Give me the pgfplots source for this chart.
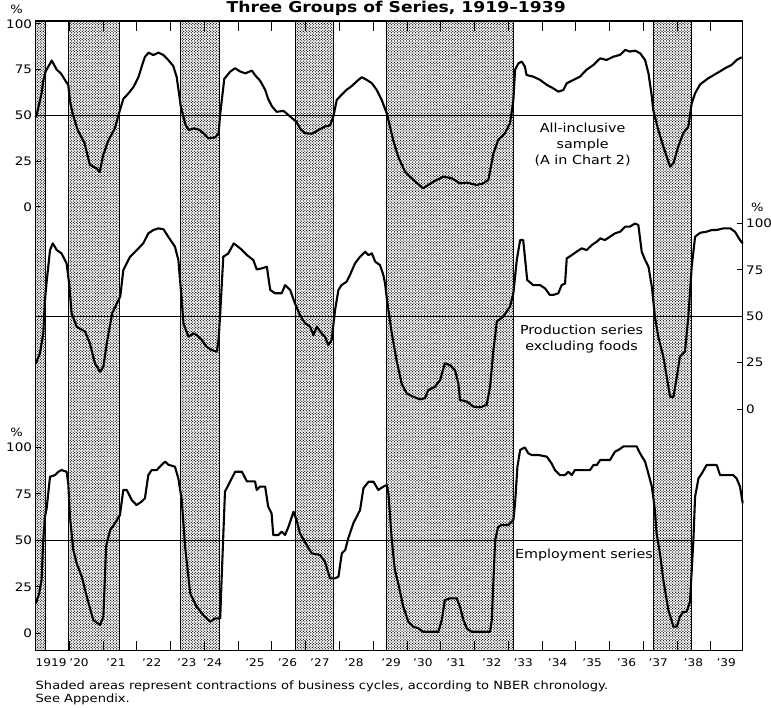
\documentclass[border=0pt]{standalone}
\usepackage{pgfplots}
\pgfplotsset{compat=1.18}
\usepackage{fontspec}
\setmainfont[FakeStretch=1.15]{DejaVu Sans}
\usetikzlibrary{patterns}

% staggered stipple for the contraction periods
\pgfdeclarepatternformonly{stipple}{\pgfqpoint{-1pt}{-1pt}}{\pgfqpoint{4pt}{4pt}}{\pgfqpoint{3pt}{2.7pt}}{%
  \pgfpathcircle{\pgfqpoint{0pt}{0pt}}{.65pt}%
  \pgfpathcircle{\pgfqpoint{1.5pt}{1.35pt}}{.65pt}%
  \pgfusepath{fill}}

\tikzset{note/.style={font=\fontsize{12.5}{15.8}\selectfont}}

\pgfplotsset{
  every axis/.append style={
    scale only axis, width=707.2bp, height=629.5bp,
    at={(35.5bp,57.5bp)}, anchor=south west,
    xmin=1919, xmax=1939.94,
  },
  series axis/.style={
    axis line style={draw=none}, xtick=\empty, clip=false,
    ytick={0,25,50,75,100},
    tick align=inside, major tick length=6bp,
    tick style={black, line width=1bp},
    /pgf/number format/assume math mode=true,
    yticklabel style={font=\fontsize{11.8}{11.8}\selectfont},
  },
  curve/.style={black, line width=2.1bp, line join=round},
  fifty/.style={black, line width=0.9bp},
  shade/.style={draw=black, line width=0.8bp, pattern=stipple},
}

\begin{document}
\begin{tikzpicture}[font=\fontsize{11.4}{15.8}\selectfont]
\path[use as bounding box] (0,0) rectangle (771bp,708bp);

% frame, shading and year axis
\begin{axis}[
  clip=false,
  ymin=0, ymax=1, ytick=\empty,
  axis line style={line width=1.3bp},
  xtick={1919.46,1920.29,1921.38,1922.44,1923.48,1924.24,1925.5,1926.46,1927.42,1928.43,1929.53,1930.47,1931.45,1932.51,1933.44,1934.46,1935.48,1936.5,1937.44,1938.48,1939.45},
  xticklabels={1919,’20,’21,’22,’23,’24,’25,’26,’27,’28,’29,’30,’31,’32,’33,’34,’35,’36,’37,’38,’39},
  major tick length=0pt,
  xticklabel style={font=\fontsize{10.6}{10.6}\selectfont, anchor=base, yshift=-16bp},
  extra x ticks={1920,1921,...,1939},
  extra x tick labels={},
  extra x tick style={major tick length=10bp, tick align=inside, tick style={black, line width=1bp}, xticklabel={}},
]
\addplot[shade] coordinates {(1919,0) (1919,1) (1919.28,1) (1919.28,0)} -- cycle;
\addplot[shade] coordinates {(1919.98,0) (1919.98,1) (1921.48,1) (1921.48,0)} -- cycle;
\addplot[shade] coordinates {(1923.28,0) (1923.28,1) (1924.44,1) (1924.44,0)} -- cycle;
\addplot[shade] coordinates {(1926.7,0) (1926.7,1) (1927.82,1) (1927.82,0)} -- cycle;
\addplot[shade] coordinates {(1929.4,0) (1929.4,1) (1933.15,1) (1933.15,0)} -- cycle;
\addplot[shade] coordinates {(1937.3,0) (1937.3,1) (1938.42,1) (1938.42,0)} -- cycle;
\node[anchor=base, font=\bfseries\fontsize{15}{15}\selectfont] at (rel axis cs:0.51,1) [yshift=8bp] {Three Groups of Series, 1919–1939};
\node[anchor=base west, inner sep=0pt] at (rel axis cs:0,0) [yshift=-38.5bp] {Shaded areas represent contractions of business cycles, according to NBER chronology.};
\node[anchor=base west, inner sep=0pt] at (rel axis cs:0,0) [yshift=-52bp] {See Appendix.};
\end{axis}

% all-inclusive sample
\begin{axis}[series axis, ymin=-242.3, ymax=101.6, ytick pos=left, yticklabel pos=left]
\addplot[fifty] coordinates {(1919,50) (1939.94,50)};
\addplot[curve] coordinates {
(1919.0,49) (1919.03,50) (1919.18,62) (1919.23,69) (1919.3,74) (1919.48,80)
(1919.63,75) (1919.75,73) (1919.92,68) (1919.97,66.7) (1920.02,58) (1920.1,51)
(1920.25,42) (1920.45,35) (1920.61,23) (1920.82,21) (1920.9,19) (1921.0,28)
(1921.15,36) (1921.35,43) (1921.47,51) (1921.6,59) (1921.75,62) (1921.9,65.5)
(1922.05,71) (1922.15,77) (1922.24,82) (1922.35,84.3) (1922.49,83) (1922.64,84.3)
(1922.79,83) (1922.93,80.3) (1923.08,77) (1923.18,71) (1923.25,62) (1923.3,55)
(1923.37,50) (1923.44,45) (1923.54,42) (1923.69,43) (1923.87,42) (1924.02,39.5)
(1924.12,37.5) (1924.32,38) (1924.42,40) (1924.47,51) (1924.59,70) (1924.77,74)
(1924.91,75.8) (1925.06,74) (1925.21,73) (1925.41,74.5) (1925.5,72) (1925.65,69)
(1925.8,64) (1925.89,59) (1926.0,55) (1926.14,52) (1926.34,52.5) (1926.44,51)
(1926.63,48) (1926.73,46.5) (1926.83,43) (1926.98,40.3) (1927.18,40) (1927.38,42)
(1927.57,44) (1927.72,44.5) (1927.82,49.4) (1927.92,58.5) (1928.06,61.2) (1928.21,64)
(1928.36,66) (1928.56,69.4) (1928.66,70.9) (1928.81,69.4) (1928.96,67.6) (1929.1,64)
(1929.25,58.5) (1929.4,51.2) (1929.45,47.5) (1929.59,36.6) (1929.74,27.5) (1929.94,19.3)
(1930.19,14.8) (1930.48,10.2) (1930.78,13.8) (1931.08,16.6) (1931.32,15.7) (1931.57,12.9)
(1931.77,13.3) (1932.06,12) (1932.26,12.9) (1932.41,14.8) (1932.56,29.3) (1932.7,36.6)
(1932.9,40.3) (1933.05,45.7) (1933.15,58.5) (1933.2,74.9) (1933.3,78.5) (1933.4,79.4)
(1933.49,76.7) (1933.54,72.1) (1933.74,71.2) (1933.94,69.4) (1934.14,66.7) (1934.33,64.8)
(1934.48,63) (1934.63,63.9) (1934.73,67.6) (1934.93,69.4) (1935.12,71.2) (1935.32,75)
(1935.52,77.6) (1935.72,81.2) (1935.91,80.3) (1936.11,82.1) (1936.31,83.1) (1936.46,85.8)
(1936.6,84.9) (1936.75,85.4) (1936.9,84) (1937.05,80.3) (1937.15,73) (1937.25,60.3)
(1937.29,53) (1937.44,42.1) (1937.59,33) (1937.79,22) (1937.89,23.9) (1938.03,33)
(1938.18,40.3) (1938.33,43.9) (1938.43,56.6) (1938.53,62.1) (1938.68,67) (1938.92,70.3)
(1939.17,73) (1939.42,75.8) (1939.61,77.6) (1939.76,80.3) (1939.91,81.8)
};
\node[note, align=center] at (axis cs:1935.2,34) {All-inclusive\\sample\\(A in Chart 2)};
\node at (axis cs:1919,100) [xshift=-19bp, yshift=15bp] {\%};
\end{axis}

% production series excluding foods
\begin{axis}[series axis, ymin=-130.2, ymax=209.2, ytick pos=right, yticklabel pos=right]
\addplot[fifty] coordinates {(1919,50) (1939.94,50)};
\addplot[curve] coordinates {
(1919.01,24.6) (1919.13,30) (1919.23,40.8) (1919.28,58.8) (1919.33,68.6) (1919.43,85.7)
(1919.51,89.3) (1919.63,85.7) (1919.77,83.9) (1919.92,78.5) (1920.0,67) (1920.07,51.6)
(1920.22,44.4) (1920.47,41.7) (1920.61,35.4) (1920.76,24.6) (1920.91,20.1) (1921.01,22.8)
(1921.11,35.4) (1921.27,51.6) (1921.41,57) (1921.51,60.6) (1921.6,74.9) (1921.8,82.1)
(1922.0,85.7) (1922.19,89.3) (1922.34,94.7) (1922.49,96.5) (1922.64,97.4) (1922.79,96.9)
(1922.93,92.9) (1923.13,87.5) (1923.23,80.3) (1923.33,58.8) (1923.38,46.2) (1923.53,39)
(1923.67,40.8) (1923.77,39.9) (1923.92,37.2) (1924.07,33.6) (1924.22,31.8) (1924.37,30.9)
(1924.42,37.2) (1924.47,51.6) (1924.56,82.1) (1924.71,83.9) (1924.87,89.3) (1925.06,86.6)
(1925.26,83) (1925.45,80.3) (1925.55,75.3) (1925.7,75.8) (1925.85,76.7) (1925.95,64.2)
(1926.09,62.4) (1926.29,62.4) (1926.39,66.8) (1926.54,64.2) (1926.68,57) (1926.83,50.7)
(1926.98,46.2) (1927.13,44.4) (1927.23,39.9) (1927.33,44.4) (1927.43,41.7) (1927.57,39)
(1927.67,34.5) (1927.77,37.2) (1927.87,53.4) (1927.97,64.2) (1928.06,66.8) (1928.21,68.6)
(1928.31,72.2) (1928.46,78.5) (1928.61,82.1) (1928.76,84.8) (1928.86,83) (1928.96,83.9)
(1929.06,79.4) (1929.2,77.6) (1929.3,72.2) (1929.35,67.7) (1929.4,60) (1929.45,53.4)
(1929.55,40.8) (1929.69,26.4) (1929.84,13.8) (1929.99,8.4) (1930.19,6.6) (1930.38,5.2)
(1930.53,5.8) (1930.63,10.2) (1930.83,12) (1930.98,15.6) (1931.12,24.6) (1931.27,23.7)
(1931.42,21) (1931.52,13.8) (1931.57,4.9) (1931.77,4) (1931.96,1.3) (1932.16,0.9)
(1932.36,2.2) (1932.46,12) (1932.56,31.8) (1932.66,47.1) (1932.85,49.8) (1933.05,55.2)
(1933.15,62.4) (1933.25,80.3) (1933.35,91.1) (1933.44,91.1) (1933.49,82.1) (1933.56,69.5)
(1933.74,66.8) (1933.94,66.8) (1934.09,65) (1934.23,61.5) (1934.33,61.5) (1934.48,62.4)
(1934.58,66.8) (1934.68,67.7) (1934.73,81.2) (1934.88,83) (1935.02,84.8) (1935.17,86.6)
(1935.32,85.7) (1935.47,88.4) (1935.62,90.2) (1935.72,92) (1935.86,91.1) (1936.01,92.9)
(1936.16,94.7) (1936.31,95.6) (1936.46,98.3) (1936.6,98.3) (1936.75,100) (1936.85,99.2)
(1936.95,84.8) (1937.05,80.3) (1937.15,76.7) (1937.25,65.9) (1937.34,49.8) (1937.44,39)
(1937.59,28.2) (1937.69,17.4) (1937.79,6.6) (1937.89,6.6) (1937.99,17.4) (1938.08,28.2)
(1938.23,30.9) (1938.33,49.8) (1938.43,76.7) (1938.53,92.9) (1938.68,95) (1938.87,95.6)
(1939.02,96.5) (1939.17,96.5) (1939.37,97.4) (1939.57,97.4) (1939.71,95.6) (1939.86,91.1)
(1939.94,89.3)
};
\node[note, align=center] at (axis cs:1935.17,37.9) {Production series\\excluding foods};
\node at (axis cs:1939.94,100) [xshift=14.5bp, yshift=16bp] {\%};
\end{axis}

% employment series
\begin{axis}[series axis, ymin=-9.2, ymax=329.2, ytick pos=left, yticklabel pos=left]
\addplot[fifty] coordinates {(1919,50) (1939.94,50)};
\addplot[curve] coordinates {
(1919.01,16.1) (1919.11,21.5) (1919.18,28.7) (1919.23,50.2) (1919.28,62.7) (1919.33,67.2)
(1919.43,84.2) (1919.58,85.1) (1919.68,86.9) (1919.77,87.8) (1919.92,86.9) (1919.97,80.6)
(1920.02,62.7) (1920.12,44.8) (1920.22,37.6) (1920.37,30.5) (1920.52,19.7) (1920.71,7.2)
(1920.91,4.5) (1921.01,9) (1921.09,46.6) (1921.21,55.6) (1921.35,59.1) (1921.5,63.6)
(1921.6,77.1) (1921.7,77.1) (1921.85,71.7) (1921.99,69) (1922.14,70.8) (1922.24,72.6)
(1922.34,85.1) (1922.44,87.8) (1922.59,87.8) (1922.74,90.7) (1922.84,92.3) (1922.93,90.7)
(1923.13,89.6) (1923.23,83.3) (1923.33,71.7) (1923.43,46.6) (1923.58,21.5) (1923.77,14.3)
(1923.97,9.9) (1924.17,6.3) (1924.32,8.1) (1924.47,8.1) (1924.51,28.7) (1924.61,76.2)
(1924.81,83.3) (1924.91,86.9) (1925.11,86.9) (1925.26,81.7) (1925.5,81.7) (1925.55,77.1)
(1925.65,78.9) (1925.8,78.9) (1925.89,68.1) (1925.99,64.5) (1926.04,52.9) (1926.19,52.9)
(1926.29,54.7) (1926.39,52.9) (1926.49,57.3) (1926.64,65.4) (1926.73,60.9) (1926.83,53.8)
(1927.03,47.5) (1927.18,43) (1927.43,42.1) (1927.57,38.5) (1927.72,29.6) (1927.87,29.6)
(1927.97,30.5) (1928.07,43) (1928.17,44.8) (1928.26,51.1) (1928.41,59.1) (1928.61,66.3)
(1928.71,78) (1928.86,81.5) (1929.01,81.5) (1929.15,77.1) (1929.3,78.9) (1929.4,79.7)
(1929.45,75.3) (1929.5,62.7) (1929.55,50.2) (1929.64,34.1) (1929.74,26.9) (1929.89,14.3)
(1930.04,6.3) (1930.19,3.6) (1930.34,2.7) (1930.48,0.9) (1930.73,0.9) (1930.93,0.9)
(1931.03,7.2) (1931.12,17.9) (1931.27,18.8) (1931.47,18.8) (1931.57,14.3) (1931.67,7.2)
(1931.77,2.7) (1931.91,0.9) (1932.16,0.9) (1932.46,0.9) (1932.51,7.2) (1932.61,50.2)
(1932.7,57.3) (1932.8,58.2) (1933.0,58.2) (1933.15,60.9) (1933.2,69.9) (1933.27,89.6)
(1933.35,98.6) (1933.49,100) (1933.59,96.8) (1933.69,95.9) (1933.89,95.9) (1934.14,95)
(1934.28,91.4) (1934.38,87.8) (1934.53,85.1) (1934.68,85.1) (1934.78,86.9) (1934.88,85.1)
(1934.97,87.8) (1935.22,87.8) (1935.42,87.8) (1935.52,90.5) (1935.62,90.5) (1935.72,93.2)
(1936.01,93.2) (1936.16,97.7) (1936.26,98.6) (1936.41,100.5) (1936.65,100.5) (1936.8,100.5)
(1936.9,96.8) (1937.05,92.3) (1937.15,85.7) (1937.25,78.9) (1937.34,66.3) (1937.39,53.8)
(1937.49,43) (1937.59,28.7) (1937.74,12.5) (1937.89,3.6) (1937.99,3.6) (1938.08,9)
(1938.18,11.6) (1938.28,11.6) (1938.38,17) (1938.48,50.2) (1938.53,73.5) (1938.63,83.3)
(1938.73,86) (1938.87,90.5) (1939.07,90.5) (1939.17,90.5) (1939.27,85.1) (1939.47,85.1)
(1939.66,85.1) (1939.76,83.3) (1939.86,78.9) (1939.94,69.9)
};
\node[note] at (axis cs:1935.24,42.1) {Employment series};
\node at (axis cs:1919,100) [xshift=-19bp, yshift=15bp] {\%};
\end{axis}
\end{tikzpicture}
\end{document}
